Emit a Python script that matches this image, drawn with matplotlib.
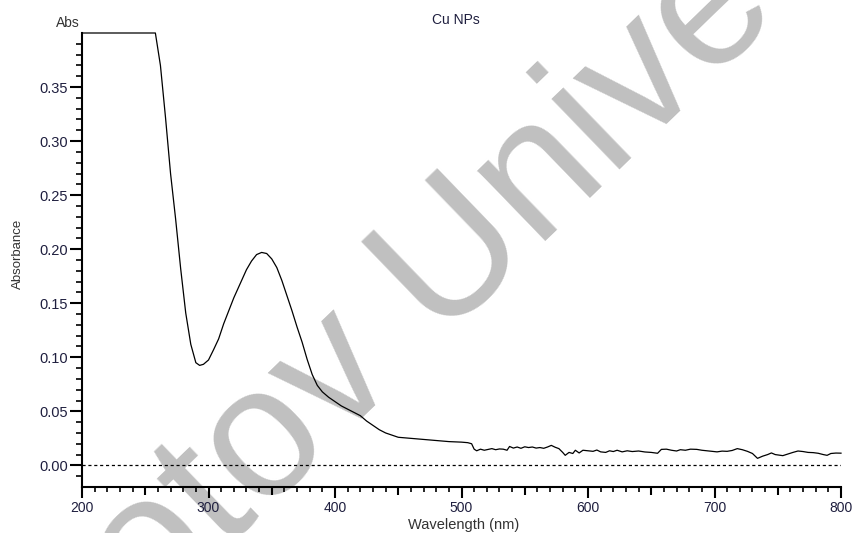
import numpy as np
import matplotlib
matplotlib.use('Agg')
import matplotlib.pyplot as plt
from matplotlib.ticker import MultipleLocator, FuncFormatter

plt.rcParams['font.family'] = ['Liberation Sans', 'DejaVu Sans']

# spectrum
wavelength = [200, 258, 262, 266, 270, 274, 278, 282, 286, 290, 293, 296, 300,
              304, 308, 312, 316, 320, 325, 330, 334, 338, 342, 346, 350, 354,
              358, 362, 366, 370, 374, 378, 382, 386, 390, 395, 400, 405, 410,
              415, 420, 425, 430, 435, 440, 445, 450, 460, 470, 480, 490, 500,
              505, 508, 510, 512, 515, 518, 521, 524, 527, 530, 533, 536, 538,
              541, 544, 547, 550, 553, 556, 559, 562, 565, 568, 571, 574, 577,
              580, 582, 585, 588, 590, 593, 596, 600, 604, 607, 610, 614, 617,
              620, 623, 627, 631, 635, 640, 645, 650, 655, 658, 662, 666, 670,
              673, 677, 681, 686, 690, 694, 698, 702, 706, 710, 714, 718, 722,
              726, 730, 734, 738, 742, 745, 748, 751, 754, 758, 762, 766, 770,
              774, 778, 782, 786, 789, 792, 796, 800]
absorbance = [0.400, 0.400, 0.370, 0.322, 0.270, 0.228, 0.182, 0.141, 0.112,
              0.095, 0.0925, 0.0935, 0.0975, 0.107, 0.117, 0.131, 0.143, 0.155,
              0.168, 0.181, 0.189, 0.195, 0.197, 0.196, 0.191, 0.183, 0.171,
              0.157, 0.143, 0.128, 0.114, 0.098, 0.084, 0.074, 0.068, 0.063,
              0.059, 0.055, 0.052, 0.049, 0.046, 0.041, 0.037, 0.033, 0.030,
              0.028, 0.026, 0.025, 0.024, 0.023, 0.022, 0.0215, 0.021, 0.020,
              0.015, 0.0135, 0.0150, 0.0140, 0.0148, 0.0155, 0.0145, 0.0152,
              0.0150, 0.0140, 0.0175, 0.0160, 0.0170, 0.0158, 0.0172, 0.0165,
              0.0170, 0.0160, 0.0165, 0.0158, 0.0170, 0.0185, 0.0168, 0.0155,
              0.0120, 0.0093, 0.0120, 0.0110, 0.0140, 0.0115, 0.0140, 0.0135,
              0.0130, 0.0142, 0.0125, 0.0120, 0.0135, 0.0128, 0.0140, 0.0125,
              0.0135, 0.0128, 0.0133, 0.0124, 0.0120, 0.0112, 0.0148, 0.0150,
              0.0140, 0.0133, 0.0145, 0.0140, 0.0150, 0.0148, 0.0140, 0.0135,
              0.0130, 0.0125, 0.0132, 0.0130, 0.0138, 0.0155, 0.0145, 0.0130,
              0.0110, 0.0065, 0.0085, 0.0100, 0.0115, 0.0100, 0.0095, 0.0090,
              0.0105, 0.0120, 0.0133, 0.0128, 0.0120, 0.0118, 0.0112, 0.0100,
              0.0093, 0.0110, 0.0114, 0.0113]

label_col = '#1f1f3f'

fig = plt.figure(figsize=(8.53, 5.33), dpi=100)
ax = fig.add_axes([82/853, 1 - 487/533, (841 - 82)/853, (487 - 33)/533])
ax.set_facecolor('none')

# watermark behind the plot
fig.text(150/853, 1 - 624/533, 'otov Unive', fontsize=134, color='#c0c0c0',
         rotation=44, rotation_mode='anchor', ha='left', va='baseline', zorder=-1)

ax.plot(wavelength, absorbance, color='black', lw=0.9, clip_on=False)
ax.axhline(0, color='black', lw=0.9, ls=(0, (2.5, 2.2)))

ax.set_xlim(200, 800)
ax.set_ylim(-0.02, 0.40)

for s in ['top', 'right']:
    ax.spines[s].set_visible(False)
for s in ['left', 'bottom']:
    ax.spines[s].set_linewidth(1.5)

ax.xaxis.set_major_locator(MultipleLocator(50))
ax.xaxis.set_minor_locator(MultipleLocator(10))
ax.xaxis.set_major_formatter(FuncFormatter(lambda v, p: f'{v:.0f}' if round(v) % 100 == 0 else ''))
ax.set_yticks(np.arange(0, 0.351, 0.05))
ax.set_yticks(np.arange(-0.01, 0.395, 0.01), minor=True)
ax.yaxis.set_major_formatter(FuncFormatter(lambda v, p: f'{v:.2f}'))

ax.tick_params(axis='x', which='major', length=8, width=1.5, pad=2,
               labelsize=10, labelcolor=label_col)
ax.tick_params(axis='x', which='minor', length=3.6, width=1.2)
ax.tick_params(axis='y', which='major', length=9, width=1.5, pad=1,
               labelsize=10.5, labelcolor=label_col)
ax.tick_params(axis='y', which='minor', length=4.3, width=1.2)

locs = ax.xaxis.get_majorticklocs()
for t, loc in zip(ax.xaxis.get_major_ticks(len(locs)), locs):
    if round(loc) % 100:
        t.tick1line.set_markersize(6)

fig.text(456/853, 1 - 20/533, 'Cu NPs', fontsize=10, color=label_col,
         ha='center', va='center')
fig.text(80/853, 1 - 23/533, 'Abs', fontsize=10, color='#333333',
         ha='right', va='center')
fig.text(18/853, 1 - 254/533, 'Absorbance', fontsize=9.5, color='#333333',
         rotation=90, ha='center', va='center')
fig.text(464/853, 1 - 525/533, 'Wavelength (nm)', fontsize=10.5, color='#333333',
         ha='center', va='center')

fig.savefig('out.png', dpi=100)
